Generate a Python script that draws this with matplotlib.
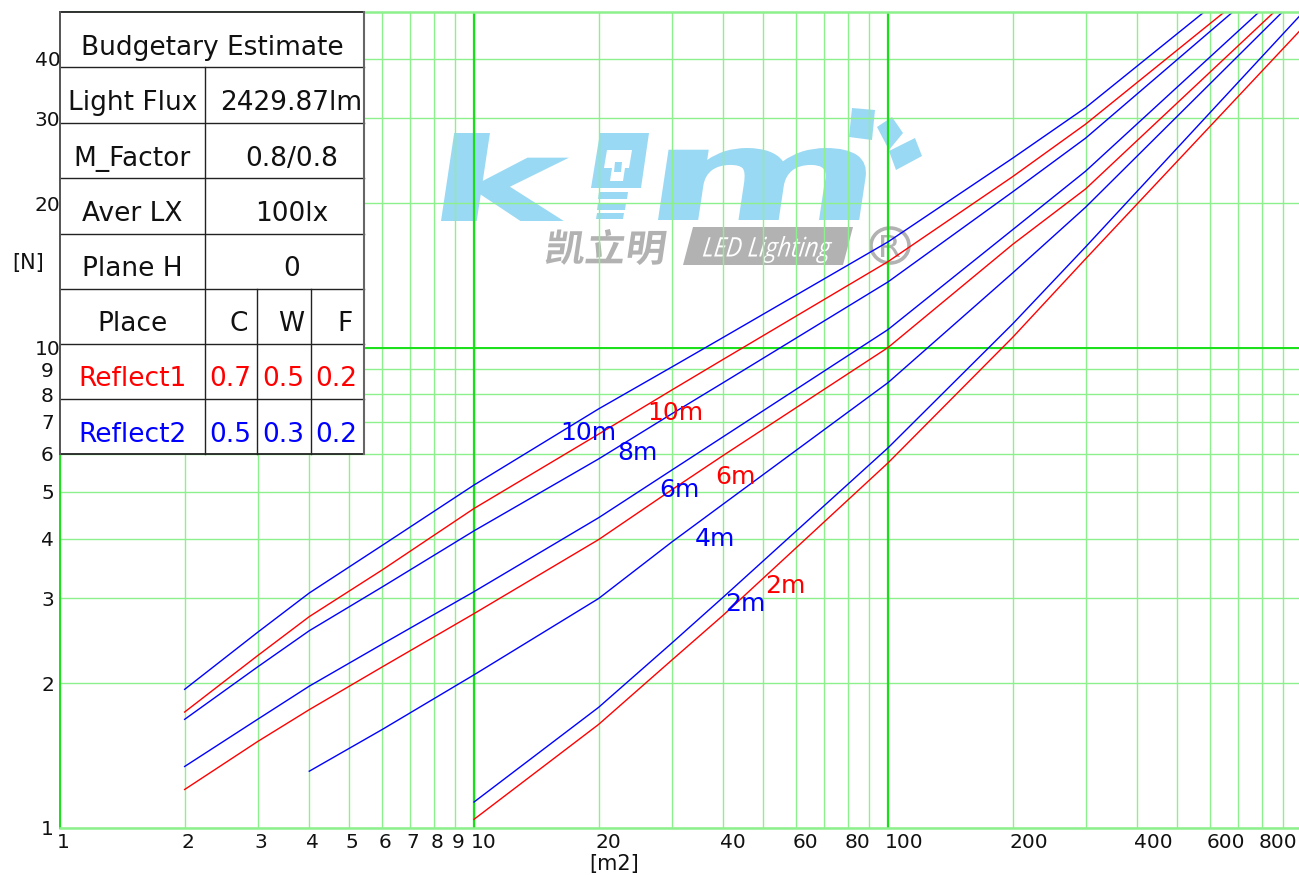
import numpy as np
import matplotlib
matplotlib.use('Agg')
import matplotlib.pyplot as plt
from matplotlib.ticker import FixedLocator, FixedFormatter, NullLocator
from matplotlib.patches import Rectangle, Polygon, PathPatch, Ellipse
from matplotlib.textpath import TextPath
from matplotlib.font_manager import FontProperties
from matplotlib.transforms import ScaledTranslation
from matplotlib.lines import Line2D
from matplotlib.path import Path

# ---------------- data ----------------
x_b10 = [2, 3, 4, 6, 10, 20, 30, 40, 100, 200, 300, 580]
y_b10 = [1.94, 2.55, 3.08, 3.87, 5.17, 7.45, 9.10, 10.5, 16.6, 24.8, 31.6, 50]
x_r10 = [2, 3, 4, 6, 10, 20, 30, 40, 100, 200, 300, 649]
y_r10 = [1.74, 2.28, 2.75, 3.44, 4.62, 6.60, 8.15, 9.45, 15.1, 22.7, 29.2, 50]
x_b8 = [2, 3, 4, 6, 10, 20, 30, 40, 100, 200, 300, 680]
y_b8 = [1.68, 2.16, 2.57, 3.17, 4.15, 5.86, 7.27, 8.45, 13.7, 21.1, 27.3, 50]
x_b6 = [2, 3, 4, 6, 10, 20, 30, 40, 100, 200, 300, 787]
y_b6 = [1.34, 1.68, 1.97, 2.41, 3.10, 4.42, 5.55, 6.52, 10.9, 17.6, 23.3, 50]
x_r6 = [2, 3, 4, 6, 10, 20, 30, 40, 100, 200, 300, 856]
y_r6 = [1.20, 1.51, 1.76, 2.16, 2.79, 3.98, 5.05, 5.96, 10.0, 16.4, 21.4, 50]
x_b4 = [4, 6, 10, 20, 30, 40, 100, 200, 300, 896]
y_b4 = [1.31, 1.60, 2.08, 3.00, 3.93, 4.72, 8.45, 14.3, 19.6, 50]
x_b2 = [10, 20, 30, 40, 100, 200, 300, 983]
y_b2 = [1.13, 1.78, 2.42, 3.02, 6.18, 11.2, 16.2, 48.9]
x_r2 = [10, 20, 30, 40, 100, 200, 300, 983]
y_r2 = [1.04, 1.64, 2.23, 2.77, 5.75, 10.5, 15.3, 45.5]

curve_names = ['10m', '10m', '8m', '6m', '6m', '4m', '2m', '2m']
curve_colors = ['#0000ff', '#ff0000', '#0000ff', '#0000ff', '#ff0000', '#0000ff', '#0000ff', '#ff0000']
curve_x = [x_b10, x_r10, x_b8, x_b6, x_r6, x_b4, x_b2, x_r2]
curve_y = [y_b10, y_r10, y_b8, y_b6, y_r6, y_b4, y_b2, y_r2]
# label anchor (center x, baseline y) in data units
label_x = [18.9, 30.7, 24.8, 31.4, 42.8, 38.2, 45.2, 56.4]
label_y = [6.42, 7.06, 5.83, 4.89, 5.19, 3.85, 2.82, 3.08]

x_grid = [1, 2, 3, 4, 5, 6, 7, 8, 9, 10, 20, 30, 40, 50, 60, 70, 80, 90,
          100, 200, 300, 400, 500, 600, 700, 800, 900]
x_labels = ['1', '2', '3', '4', '5', '6', '7', '8', '9', '10', '20', '', '40', '',
            '60', '', '80', '', '100', '200', '', '400', '', '600', '', '800', '']
y_grid = [1, 2, 3, 4, 5, 6, 7, 8, 9, 10, 20, 30, 40]
y_labels = [str(v) for v in y_grid]

table_title = 'Budgetary Estimate'
info_keys = ['Light Flux', 'M_Factor', 'Aver LX', 'Plane H']
info_vals = ['2429.87lm', '0.8/0.8', '100lx', '0']
place_header = ['Place', 'C', 'W', 'F']
reflect1 = ['Reflect1', '0.7', '0.5', '0.2']
reflect2 = ['Reflect2', '0.5', '0.3', '0.2']

# ---------------- figure ----------------
W, H = 1299, 875
fig = plt.figure(figsize=(W / 100, H / 100), dpi=100)
ax = fig.add_axes([60 / W, (H - 827.5) / H, (W - 60) / W, 815.5 / H])
ax.set_xscale('log')
ax.set_yscale('log')


def FX(px):
    return px / W


def FY(py):
    return 1 - py / H


# ---------------- watermark logo ----------------
LOGO_BLUE = '#9ad9f3'
LOGO_GRAY = '#b2b2b2'


def fitted_text(s, box, prop, color, skew, zorder, container):
    tp = TextPath((0, 0), s, size=100, prop=prop)
    ext = tp.get_extents()
    l, t, r, b = box
    h = b - t
    w = (r - l) - skew * h
    v = tp.vertices.copy()
    vx = (v[:, 0] - ext.x0) / ext.width * w
    vy = (v[:, 1] - ext.y0) / ext.height * h
    vx = vx + skew * vy + l
    path = Path(np.column_stack([FX(vx), FY(b - vy)]), tp.codes)
    p = PathPatch(path, transform=fig.transFigure, facecolor=color,
                  edgecolor='none', zorder=zorder)
    container.add_patch(p)
    return p


def poly(pts, color, zorder):
    p = Polygon([(FX(a), FY(b)) for a, b in pts], closed=True, transform=fig.transFigure,
                facecolor=color, edgecolor='none', zorder=zorder)
    ax.add_patch(p)


bold = FontProperties(family='DejaVu Sans', weight='bold')
fitted_text('k', (441, 133, 577, 221), bold, LOGO_BLUE, 0.15, 0.3, ax)
fitted_text('m', (658, 148, 870, 220), bold, LOGO_BLUE, 0.15, 0.3, ax)
# bulb
poly([(600, 133), (649, 133), (641, 188), (591, 188)], LOGO_BLUE, 0.3)
poly([(607, 150), (632, 150), (629, 168), (604, 168)], 'white', 0.31)
poly([(612, 168), (625, 168), (623, 181), (610, 181)], 'white', 0.31)
poly([(615, 162), (622, 162), (621, 172), (614, 172)], LOGO_BLUE, 0.32)
poly([(599, 192), (628, 192), (627, 199), (598, 199)], LOGO_BLUE, 0.3)
poly([(598, 203), (626, 203), (625, 210), (597, 210)], LOGO_BLUE, 0.3)
poly([(597, 213), (624, 213), (623, 219), (596, 219)], LOGO_BLUE, 0.3)
# rays
poly([(852, 108), (875, 110), (872, 140), (849, 137)], LOGO_BLUE, 0.3)
poly([(877, 127), (892, 117), (903, 133), (889, 150)], LOGO_BLUE, 0.3)
poly([(889, 151), (915, 138), (922, 156), (896, 170)], LOGO_BLUE, 0.3)
# Chinese name
cjk = FontProperties(family='Noto Sans CJK SC', weight='bold')
fitted_text('凯立明', (545, 229, 667, 265), cjk, LOGO_GRAY, 0.15, 0.3, ax)
# LED Lighting box
poly([(693, 227), (853, 227), (843, 265), (683, 265)], LOGO_GRAY, 0.3)
it = FontProperties(family='Open Sans', style='italic')
fitted_text('LED Lighting', (702, 236, 833, 263), it, 'white', 0.12, 0.31, ax)
# registered mark
ax.add_patch(Ellipse((FX(890), FY(245.5)), 38 / W, 35 / H, transform=fig.transFigure,
                     facecolor='none', edgecolor=LOGO_GRAY, lw=2.6, zorder=0.3))
fitted_text('R', (881, 235, 900, 257), FontProperties(family='DejaVu Sans'), LOGO_GRAY, 0.0, 0.3, ax)

# ---------------- axes / grid ----------------
ax.set_xlim(1, 983)
ax.set_ylim(1, 50)
ax.xaxis.set_major_locator(FixedLocator(x_grid))
ax.xaxis.set_major_formatter(FixedFormatter(x_labels))
ax.xaxis.set_minor_locator(NullLocator())
ax.yaxis.set_major_locator(FixedLocator(y_grid))
ax.yaxis.set_major_formatter(FixedFormatter(y_labels))
ax.yaxis.set_minor_locator(NullLocator())
ax.set_axisbelow(True)
ax.grid(True, which='major', color='#8cf08c', lw=1.0)
for v in (10, 100):
    ax.axvline(v, color='#18e018', lw=1.6, zorder=0.6)
ax.axhline(10, color='#18e018', lw=1.4, zorder=0.6)

ax.tick_params(axis='both', which='both', length=0, labelsize=14.5, colors='#111111')
ax.tick_params(axis='x', pad=4)
ax.tick_params(axis='y', pad=9)
for t in ax.xaxis.get_major_ticks(len(x_grid)):
    t.label1.set_ha('left')
    t.label1.set_transform(t.label1.get_transform() +
                           ScaledTranslation(-3.5 / 100, 0, fig.dpi_scale_trans))
for t in ax.yaxis.get_major_ticks(len(y_grid)):
    t.label1.set_ha('center')

ax.spines['right'].set_visible(False)
ax.spines['left'].set_color('#18e018')
ax.spines['left'].set_linewidth(1.4)
for s in ('top', 'bottom'):
    ax.spines[s].set_color('#8cf08c')
    ax.spines[s].set_linewidth(1.8)

fig.text(FX(28), FY(263), '[N]', fontsize=15, ha='center', va='center', color='#111111')
fig.text(FX(614), FY(864), '[m2]', fontsize=15, ha='center', va='center', color='#111111')

# ---------------- curves ----------------
for xs, ys, c in zip(curve_x, curve_y, curve_colors):
    ax.plot(xs, ys, color=c, lw=1.0, zorder=2)
for name, c, lx, ly in zip(curve_names, curve_colors, label_x, label_y):
    ax.text(lx, ly, name, color=c, fontsize=18, ha='center', va='baseline', zorder=3)

# ---------------- table ----------------
rows = [12, 67.3, 123, 178.3, 233.7, 288.7, 344, 399, 454]
cols = [60, 204.7, 257.3, 310.7, 364]
TZ = 10
fig.add_artist(Rectangle((FX(60), FY(454)), FX(364) - FX(60), FY(12) - FY(454),
                         transform=fig.transFigure, facecolor='white', edgecolor='none', zorder=TZ))


def hline(y, x0, x1, color='#222222', lw=1.0):
    fig.add_artist(Line2D([FX(x0), FX(x1)], [FY(y), FY(y)], transform=fig.transFigure,
                          color=color, lw=lw, zorder=TZ + 1))


def vline(x, y0, y1, color='#222222', lw=1.0):
    fig.add_artist(Line2D([FX(x), FX(x)], [FY(y0), FY(y1)], transform=fig.transFigure,
                          color=color, lw=lw, zorder=TZ + 1))


for i, y in enumerate(rows):
    hline(y, 60, 364, lw=1.3 if i in (0, len(rows) - 1) else 1.0)
vline(60, 12, 454, color='#555555', lw=1.4)
vline(364, 12, 454, color='#666666', lw=1.5)
vline(cols[1], rows[1], rows[-1])
vline(cols[2], rows[5], rows[-1])
vline(cols[3], rows[5], rows[-1])

TFS = 19


def ttext(x, row, s, color='#111111'):
    fig.text(FX(x), FY(rows[row + 1] - 12.5), s, fontsize=TFS, ha='center', va='baseline',
             color=color, zorder=TZ + 2)


ttext(212, 0, table_title)
for i, (k, v) in enumerate(zip(info_keys, info_vals)):
    ttext(132.3, i + 1, k)
    ttext(291.5, i + 1, v)
ttext(132.3, 5, place_header[0])
for x, s in zip([239, 291.3, 345.5], place_header[1:]):
    ttext(x, 5, s)
val_x = [132.3, 230, 283.3, 336.7]
for x, s in zip(val_x, reflect1):
    ttext(x, 6, s, '#ff0000')
for x, s in zip(val_x, reflect2):
    ttext(x, 7, s, '#0000ff')

fig.savefig('out.png', dpi=100)
